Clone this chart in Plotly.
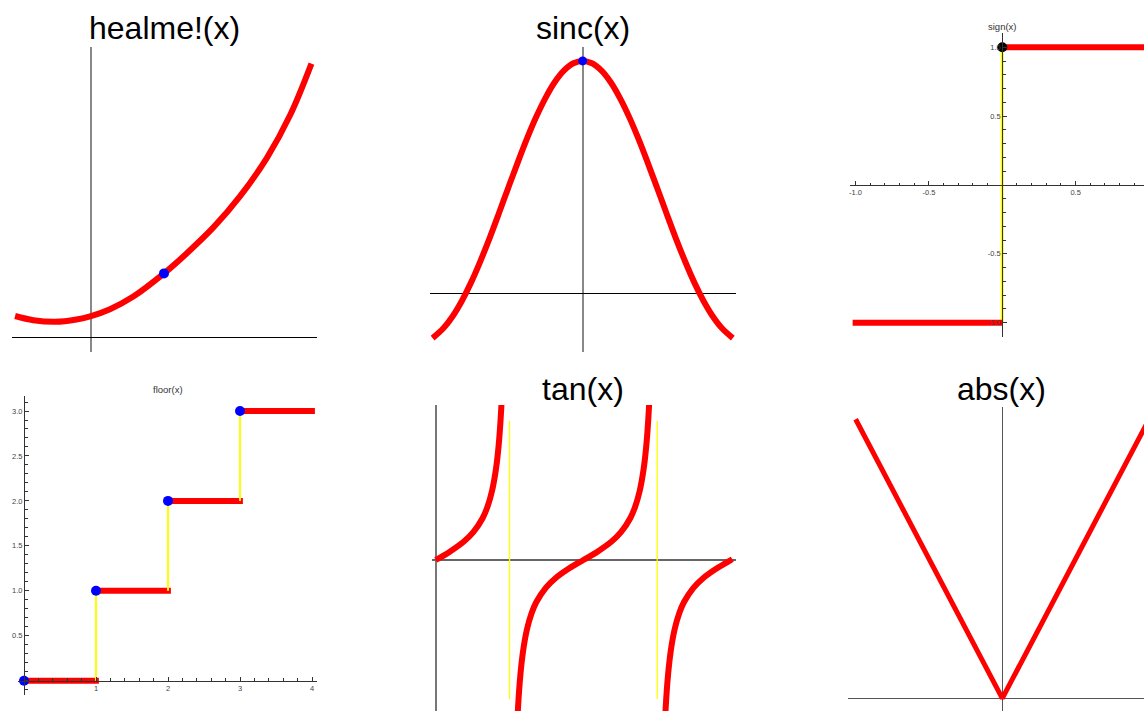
import plotly.graph_objects as go

W, H = 1144, 711

# ---------------- data ----------------
# healme!(x)
healme_x = [-1.04, -0.79, -0.49, -0.20, 0.0, 0.26, 0.58, 1.0, 1.31, 1.68, 2.04, 2.41, 2.73, 3.02]
healme_y = [0.288, 0.231, 0.208, 0.240, 0.288, 0.382, 0.555, 0.872, 1.145, 1.505, 1.926, 2.455, 3.044, 3.746]
healme_pt = ([1.0], [0.872])

# sinc(x)
sinc_x = [-4.04, -3.75, -3.5, -3.25, -3.0, -2.75, -2.5, -2.25, -2.0, -1.75, -1.5, -1.25, -1.0, -0.75, -0.5, -0.25, 0.0,
          0.25, 0.5, 0.75, 1.0, 1.25, 1.5, 1.75, 2.0, 2.25, 2.5, 2.75, 3.0, 3.25, 3.5, 3.75, 4.04]
sinc_y = [-0.194, -0.152, -0.100, -0.033, 0.047, 0.139, 0.239, 0.346, 0.455, 0.562, 0.665, 0.759, 0.841, 0.909, 0.959, 0.990, 1.0,
          0.990, 0.959, 0.909, 0.841, 0.759, 0.665, 0.562, 0.455, 0.346, 0.239, 0.139, 0.047, -0.033, -0.100, -0.152, -0.194]
sinc_pt = ([0.0], [1.0])

# sign(x)
sign_neg_x, sign_neg_y = [-1.02, 0.0], [-1, -1]
sign_pos_x, sign_pos_y = [0.0, 1.0], [1, 1]
sign_jump_x, sign_jump_y = [0, 0], [-1, 1]
sign_pt = ([0.0], [1.0])
sign_xticks = [-1.0, -0.5, 0.5]
sign_xlabels = ["-1.0", "-0.5", "0.5"]
sign_yticks = [-1.0, -0.5, 0.5, 1.0]
sign_ylabels = ["-1.0", "-0.5", "0.5", "1.0"]

# floor(x)
floor_steps = [0, 1, 2, 3]
floor_step_end = [1.04, 2.04, 3.04, 4.04]
floor_xticks = [1, 2, 3, 4]
floor_xlabels = ["1", "2", "3", "4"]
floor_yticks = [0.5, 1.0, 1.5, 2.0, 2.5, 3.0]
floor_ylabels = ["0.5", "1.0", "1.5", "2.0", "2.5", "3.0"]

# tan(x) branches
tan_b1_x = [0.0, 0.3, 0.6, 0.8, 1.0, 1.1, 1.2, 1.28, 1.34, 1.39, 1.43]
tan_b1_y = [0.0, 0.309, 0.684, 1.030, 1.557, 1.965, 2.572, 3.341, 4.255, 5.471, 7.06]
tan_b2_x = [1.7116, 1.7516, 1.8016, 1.8616, 1.9416, 2.0416, 2.1416, 2.3416, 2.5416, 2.8416, 3.1416,
            3.4416, 3.7416, 3.9416, 4.1416, 4.2416, 4.3416, 4.4216, 4.4816, 4.5316, 4.5716]
tan_b2_y = [-7.06, -5.471, -4.255, -3.341, -2.572, -1.965, -1.557, -1.030, -0.684, -0.309, 0.0,
            0.309, 0.684, 1.030, 1.557, 1.965, 2.572, 3.341, 4.255, 5.471, 7.06]
tan_b3_x = [4.8532, 4.8932, 4.9432, 5.0032, 5.0832, 5.1832, 5.2832, 5.4832, 5.6832, 5.9832, 6.2832, 6.31]
tan_b3_y = [-7.06, -5.471, -4.255, -3.341, -2.572, -1.965, -1.557, -1.030, -0.684, -0.309, 0.0, 0.027]
tan_asym_x = [1.5708, 4.7124]
tan_asym_span = [-5.15, 5.15]

# abs(x)
abs_x = [-1.0, 0.0, 1.0]
abs_y = [1.0, 0.0, 1.0]

# ---------------- layout helpers ----------------
def dx(a, b):
    return [a / W, b / W]

def dy(top, bottom):
    return [1 - bottom / H, 1 - top / H]

RED = "#ff0000"
BLUE = "#0000ff"
YEL = "#ffff00"
AX = "#333333"
TICKFONT = dict(family="Liberation Sans, Arial", size=7.5, color="#444444")

fig = go.Figure()

def plain_axes(n, xdom, ydom, xr, yr, vcol, vw, hcol, hw):
    sx = "" if n == 1 else str(n)
    fig.layout["xaxis" + sx] = dict(domain=xdom, range=xr, anchor="y" + sx, showgrid=False,
                                    showticklabels=False, ticks="", showline=False,
                                    zeroline=True, zerolinecolor=vcol, zerolinewidth=vw, fixedrange=True)
    fig.layout["yaxis" + sx] = dict(domain=ydom, range=yr, anchor="x" + sx, showgrid=False,
                                    showticklabels=False, ticks="", showline=False,
                                    zeroline=True, zerolinecolor=hcol, zerolinewidth=hw, fixedrange=True)

def tick_axes(n, xdom, ydom, xr, yr, xpos, ypos, xt, xl, yt, yl, xminor, yminor):
    sx = str(n)
    fig.layout["xaxis" + sx] = dict(domain=xdom, range=xr, anchor="free", position=xpos,
                                    showgrid=False, zeroline=False, showline=True, linecolor=AX, linewidth=1,
                                    ticks="inside", ticklen=4, tickcolor=AX, tickwidth=1,
                                    tickmode="array", tickvals=xt, ticktext=xl, tickfont=TICKFONT,
                                    minor=dict(ticks="inside", ticklen=2.5, tickcolor=AX, dtick=xminor, tick0=0,
                                               showgrid=False),
                                    fixedrange=True)
    fig.layout["yaxis" + sx] = dict(domain=ydom, range=yr, anchor="free", position=ypos,
                                    showgrid=False, zeroline=False, showline=True, linecolor=AX, linewidth=1,
                                    ticks="inside", ticklen=4, tickcolor=AX, tickwidth=1,
                                    tickmode="array", tickvals=yt, ticktext=yl, tickfont=TICKFONT,
                                    minor=dict(ticks="inside", ticklen=2.5, tickcolor=AX, dtick=yminor, tick0=0,
                                               showgrid=False),
                                    fixedrange=True)

def line(n, x, y, color, width, shape="linear"):
    sx = "" if n == 1 else str(n)
    fig.add_trace(go.Scatter(x=x, y=y, mode="lines", line=dict(color=color, width=width, shape=shape),
                             xaxis="x" + sx, yaxis="y" + sx, hoverinfo="skip", showlegend=False))

def dots(n, x, y, color, size):
    sx = "" if n == 1 else str(n)
    fig.add_trace(go.Scatter(x=x, y=y, mode="markers", marker=dict(color=color, size=size, line=dict(width=0)),
                             xaxis="x" + sx, yaxis="y" + sx, hoverinfo="skip", showlegend=False,
                             cliponaxis=False))

# Panel 1 healme
plain_axes(1, dx(12, 317), dy(47, 352), [-1.082, 3.096], [-0.205, 3.973], "#888888", 1.5, "#000000", 1)
line(1, healme_x, healme_y, RED, 6, "spline")
dots(1, *healme_pt, BLUE, 10)

# Panel 2 sinc
plain_axes(2, dx(430, 736), dy(47, 352), [-4.11, 4.127], [-0.254, 1.060], "#888888", 1.5, "#000000", 1)
line(2, sinc_x, sinc_y, RED, 6, "spline")
dots(2, *sinc_pt, BLUE, 9)

# Panel 3 sign
tick_axes(3, dx(850, 1144), dy(33, 337), [-1.038, 0.966], [-1.104, 1.104],
          1 - 185 / H, 1002.3 / W, sign_xticks, sign_xlabels, sign_yticks, sign_ylabels, 0.1, 0.1)
line(3, sign_jump_x, sign_jump_y, YEL, 3)
line(3, sign_neg_x, sign_neg_y, RED, 6)
line(3, sign_pos_x, sign_pos_y, RED, 6)
dots(3, *sign_pt, "#000000", 10)

# Panel 4 floor
tick_axes(4, dx(18, 317), dy(396, 695), [-0.0833, 4.069], [-0.159, 3.167],
          1 - 680.7 / H, 24 / W, floor_xticks, floor_xlabels, floor_yticks, floor_ylabels, 0.2, 0.1)
for k, e in zip(floor_steps, floor_step_end):
    line(4, [k, e], [k, k], RED, 6)
for k in floor_steps[1:]:
    line(4, [k, k], [k - 1, k], YEL, 2)
dots(4, floor_steps, floor_steps, BLUE, 10)

# Panel 5 tan
plain_axes(5, dx(432, 736), dy(405, 711), [-0.0787, 6.389], [-5.593, 5.741], "#777777", 1.8, "#666666", 1.5)
for ax_x in tan_asym_x:
    line(5, [ax_x, ax_x], tan_asym_span, YEL, 1.3)
line(5, tan_b1_x, tan_b1_y, RED, 6, "spline")
line(5, tan_b2_x, tan_b2_y, RED, 6, "spline")
line(5, tan_b3_x, tan_b3_y, RED, 6, "spline")

# Panel 6 abs
plain_axes(6, dx(848, 1144), dy(407, 711), [-1.052, 0.966], [-0.0455, 1.044], "#555555", 1, "#555555", 1)
line(6, abs_x, abs_y, RED, 5)

# Titles
def title(text, cx, cy, size, color="#000000"):
    fig.add_annotation(text=text, x=cx / W, y=1 - cy / H, xref="paper", yref="paper",
                       xanchor="center", yanchor="middle", showarrow=False,
                       font=dict(family="Liberation Sans, Arial", size=size, color=color))

title("healme!(x)", 164, 28.5, 32)
title("sinc(x)", 582.5, 28.5, 32)
title("tan(x)", 582.5, 388.5, 32)
title("abs(x)", 1001, 388.5, 32)
title("sign(x)", 1002, 26, 9.5, "#333333")
title("floor(x)", 168, 389, 9.5, "#333333")

fig.update_layout(width=W, height=H, autosize=False, margin=dict(l=0, r=0, t=0, b=0),
                  paper_bgcolor="white", plot_bgcolor="rgba(0,0,0,0)", showlegend=False)

fig.write_html("out.html", config={"displayModeBar": False},
               post_script="document.body.style.margin='0';document.body.style.overflow='hidden';")
